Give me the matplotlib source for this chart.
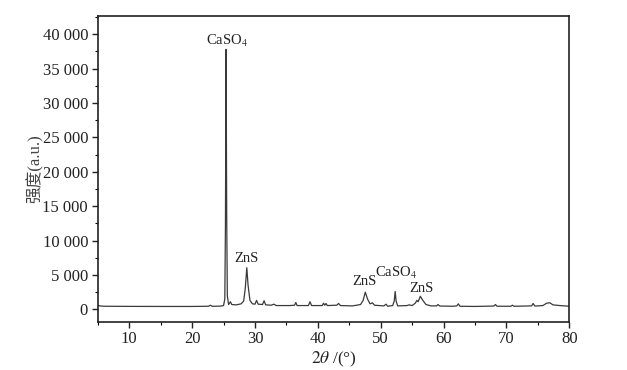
import matplotlib
matplotlib.use("Agg")
import matplotlib.pyplot as plt
from matplotlib.ticker import MultipleLocator

# Data (2-theta in degrees, intensity in a.u.)
two_theta = [5.0, 5.3, 6.0, 10.0, 15.0, 20.0, 22.6, 22.9, 23.2, 24.5, 25.0, 25.2, 25.3, 25.4,
             25.5, 25.6, 25.8, 26.1, 26.3, 27.0, 27.8, 28.2, 28.45, 28.7, 28.9, 29.2, 29.6,
             30.0, 30.25, 30.5, 31.2, 31.45, 31.7, 32.6, 33.0, 33.4, 35.5, 36.3, 36.5, 36.7,
             38.5, 38.75, 39.0, 40.7, 40.9, 41.1, 41.3, 41.5, 43.0, 43.3, 43.6, 45.5, 46.8,
             47.2, 47.55, 47.9, 48.3, 48.7, 49.0, 50.5, 50.85, 51.1, 51.9, 52.15, 52.3, 52.45,
             52.7, 54.2, 54.5, 55.0, 55.5, 55.75, 55.95, 56.3, 56.7, 57.2, 58.0, 58.9, 59.1,
             59.4, 61.5, 62.1, 62.35, 62.6, 65.0, 68.0, 68.25, 68.5, 70.7, 70.95, 71.2, 74.0,
             74.25, 74.5, 75.8, 76.4, 76.9, 77.4, 78.5, 80.0]
intensity = [600, 500, 450, 430, 420, 420, 450, 600, 440, 470, 550, 1500, 12000, 37800,
             14000, 2000, 700, 1100, 700, 650, 800, 1200, 3000, 6050, 3500, 1300, 800,
             750, 1300, 750, 700, 1250, 650, 600, 750, 550, 550, 600, 1000, 550,
             550, 1100, 550, 550, 900, 600, 850, 550, 600, 850, 550, 500, 700,
             1300, 2500, 1500, 800, 950, 600, 500, 750, 450, 550, 1200, 2600, 1200,
             500, 550, 650, 550, 900, 1300, 1100, 1900, 1300, 700, 500, 500, 700,
             480, 450, 500, 800, 450, 420, 480, 700, 450, 450, 600, 450, 500,
             850, 480, 550, 900, 950, 650, 550, 450]

peak_labels = ["CaSO$_4$", "ZnS", "ZnS", "CaSO$_4$", "ZnS"]
peak_label_x = [25.6, 28.7, 47.4, 52.4, 56.5]
peak_label_y = [39100, 7400, 4000, 5300, 3050]

xticks = [10, 20, 30, 40, 50, 60, 70, 80]
yticks = [0, 5000, 10000, 15000, 20000, 25000, 30000, 35000, 40000]
ytick_labels = ["0", "5 000", "10 000", "15 000", "20 000", "25 000", "30 000", "35 000", "40 000"]

plt.rcParams['font.family'] = ['Liberation Serif', 'Noto Sans CJK SC']
plt.rcParams['mathtext.fontset'] = 'stix'

fig = plt.figure(figsize=(6.27, 3.70), dpi=100)
ax = fig.add_axes([0.156, 0.1305, 0.752, 0.827])

ax.plot(two_theta, intensity, color='#3a3a3a', linewidth=0.9)

for lab, lx, ly in zip(peak_labels, peak_label_x, peak_label_y):
    ax.text(lx, ly, lab, ha='center', va='center', fontsize=10.5, color='#222222')

ax.set_xlim(5, 80)
ax.set_ylim(-1800, 42700)
ax.set_xticks(xticks)
ax.set_yticks(yticks)
ax.set_yticklabels(ytick_labels)
ax.xaxis.set_minor_locator(MultipleLocator(5))
ax.yaxis.set_minor_locator(MultipleLocator(2500))
ax.tick_params(axis='both', which='major', labelsize=12, length=4, width=1.0,
               colors='#222222', direction='out', pad=3)
ax.tick_params(axis='both', which='minor', length=2.5, width=0.8, direction='out')

for s in ax.spines.values():
    s.set_linewidth(1.2)
    s.set_color('#222222')

ax.set_xlabel(r"$2\theta$ /(°)", fontsize=12.5, color='#222222', labelpad=2)
ax.set_ylabel("强度(a.u.)", fontsize=12, color='#444444', labelpad=-1)

fig.savefig("out.png", dpi=100)
